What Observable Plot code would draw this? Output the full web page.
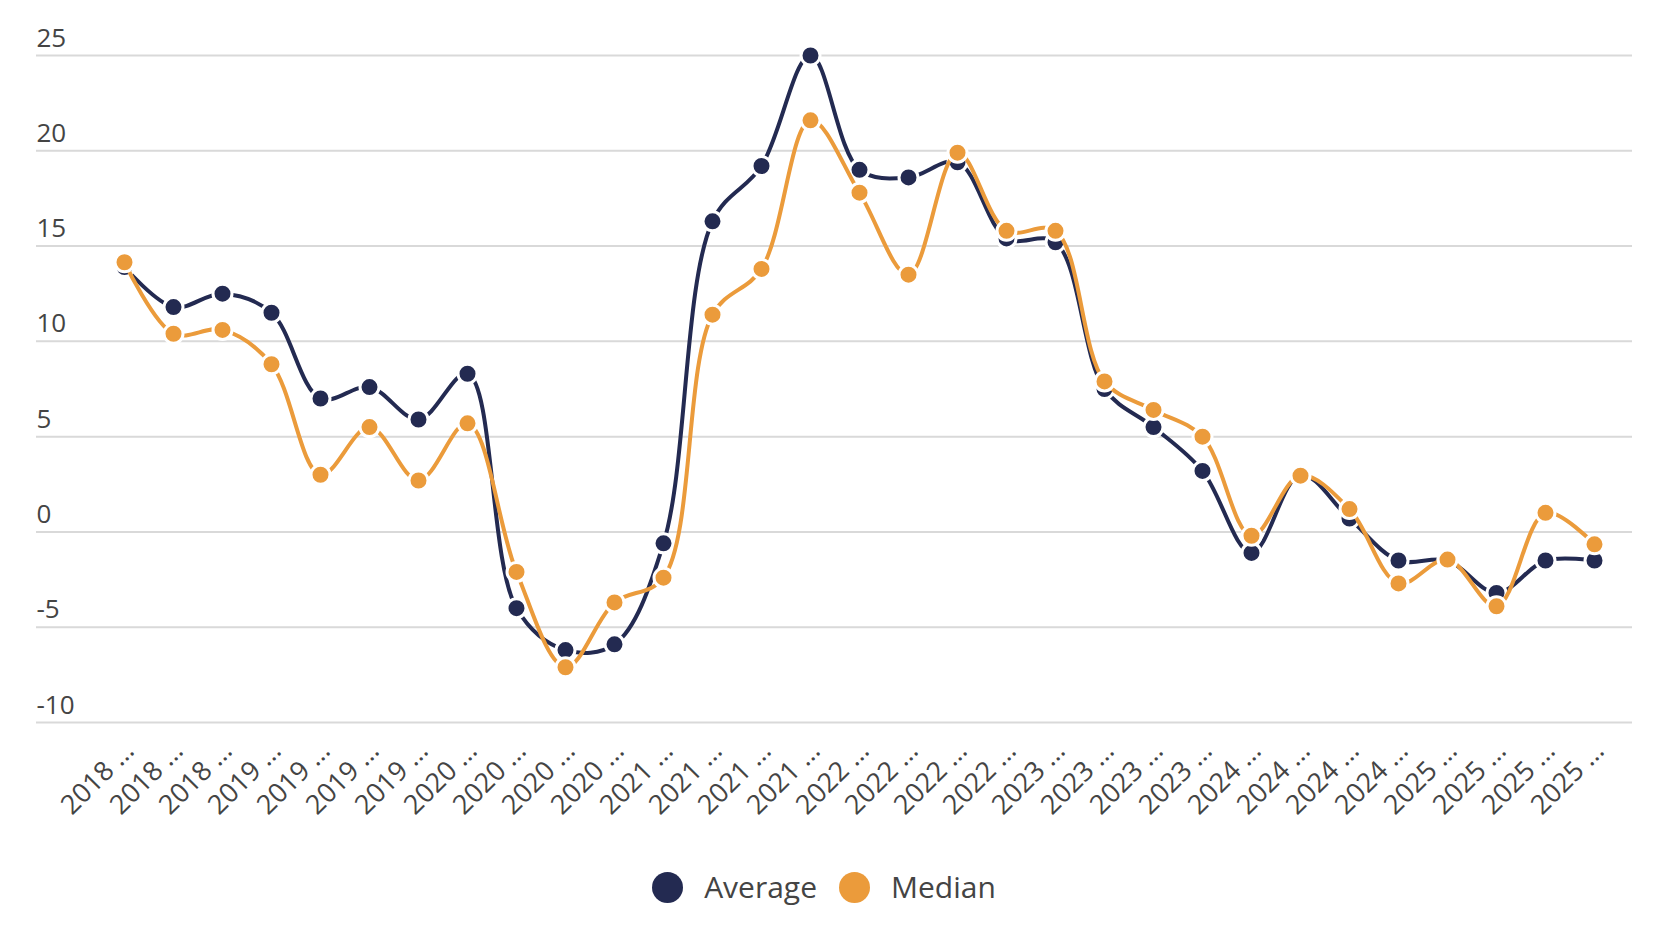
<!DOCTYPE html>
<html>
<head>
<meta charset="utf-8">
<script src="https://cdn.jsdelivr.net/npm/d3@7"></script>
<script src="https://cdn.jsdelivr.net/npm/@observablehq/plot@0.6"></script>
<style>
  html, body { margin: 0; padding: 0; background: #fff; }
  body { font-family: "Open Sans", sans-serif; width: 1674px; }
  #legend { display: flex; justify-content: center; align-items: center; height: 74px; padding-right: 26px; }
  .item { display: flex; align-items: center; margin: 0 11px; }
  .sw { width: 31px; height: 31px; border-radius: 50%; margin-right: 21px; }
  .lab { font-size: 30px; color: #444; line-height: 1; }
</style>
</head>
<body>
<div id="chart"></div>
<div id="legend"></div>
<script>
const labels = [
  "2018 …", "2018 …", "2018 …",
  "2019 …", "2019 …", "2019 …", "2019 …",
  "2020 …", "2020 …", "2020 …", "2020 …",
  "2021 …", "2021 …", "2021 …", "2021 …",
  "2022 …", "2022 …", "2022 …", "2022 …",
  "2023 …", "2023 …", "2023 …", "2023 …",
  "2024 …", "2024 …", "2024 …", "2024 …",
  "2025 …", "2025 …", "2025 …", "2025 …"
];
const average = [13.9, 11.8, 12.5, 11.5, 7.0, 7.6, 5.9, 8.3, -4.0, -6.2, -5.9, -0.6,
  16.3, 19.2, 25.0, 19.0, 18.6, 19.4, 15.4, 15.2, 7.5, 5.5, 3.2, -1.1,
  3.0, 0.7, -1.5, -1.5, -3.2, -1.5, -1.5];
const median = [14.15, 10.4, 10.6, 8.8, 3.0, 5.5, 2.7, 5.7, -2.1, -7.1, -3.7, -2.4,
  11.4, 13.8, 21.6, 17.8, 13.5, 19.9, 15.8, 15.8, 7.9, 6.4, 5.0, -0.2,
  2.95, 1.2, -2.7, -1.45, -3.9, 1.0, -0.65];
const yTicks = [-10, -5, 0, 5, 10, 15, 20, 25];
const seriesNames = ["Average", "Median"];
const seriesColors = ["#232a51", "#eb9b3b"];

const idx = d3.range(labels.length);
const avgData = idx.map(i => ({i, v: average[i]}));
const medData = idx.map(i => ({i, v: median[i]}));

const chart = Plot.plot({
  width: 1674,
  height: 850,
  marginLeft: 36,
  marginRight: 42,
  marginTop: 55,
  marginBottom: 128,
  style: {fontFamily: "'Open Sans', sans-serif", background: "white", overflow: "visible"},
  x: {type: "point", domain: idx, range: [111, 1607], padding: 0, axis: null},
  y: {domain: [-10, 25], axis: null},
  marks: [
    Plot.ruleY(yTicks, {stroke: "#d9d9d9", strokeWidth: 2}),
    Plot.text(yTicks, {y: d => d, text: d => String(d), frameAnchor: "left", textAnchor: "start",
      lineAnchor: "bottom", dy: -9, fontSize: 26, fill: "#444"}),
    Plot.text(idx, {x: d => d, text: d => labels[d], frameAnchor: "bottom", rotate: -45,
      textAnchor: "end", lineAnchor: "bottom", dx: 11, dy: 30, fontSize: 27, fill: "#444"}),
    Plot.line(avgData, {x: "i", y: "v", stroke: seriesColors[0], strokeWidth: 4, curve: "catmull-rom"}),
    Plot.dot(avgData, {x: "i", y: "v", r: 9.5, fill: seriesColors[0], stroke: "white", strokeWidth: 3}),
    Plot.line(medData, {x: "i", y: "v", stroke: seriesColors[1], strokeWidth: 4, curve: "catmull-rom"}),
    Plot.dot(medData, {x: "i", y: "v", r: 9.5, fill: seriesColors[1], stroke: "white", strokeWidth: 3})
  ]
});
document.getElementById("chart").appendChild(chart);

const legend = document.getElementById("legend");
seriesNames.forEach((name, k) => {
  const item = document.createElement("div");
  item.className = "item";
  const sw = document.createElement("span");
  sw.className = "sw";
  sw.style.background = seriesColors[k];
  const lab = document.createElement("span");
  lab.className = "lab";
  lab.textContent = name;
  item.appendChild(sw);
  item.appendChild(lab);
  legend.appendChild(item);
});
</script>
</body>
</html>
